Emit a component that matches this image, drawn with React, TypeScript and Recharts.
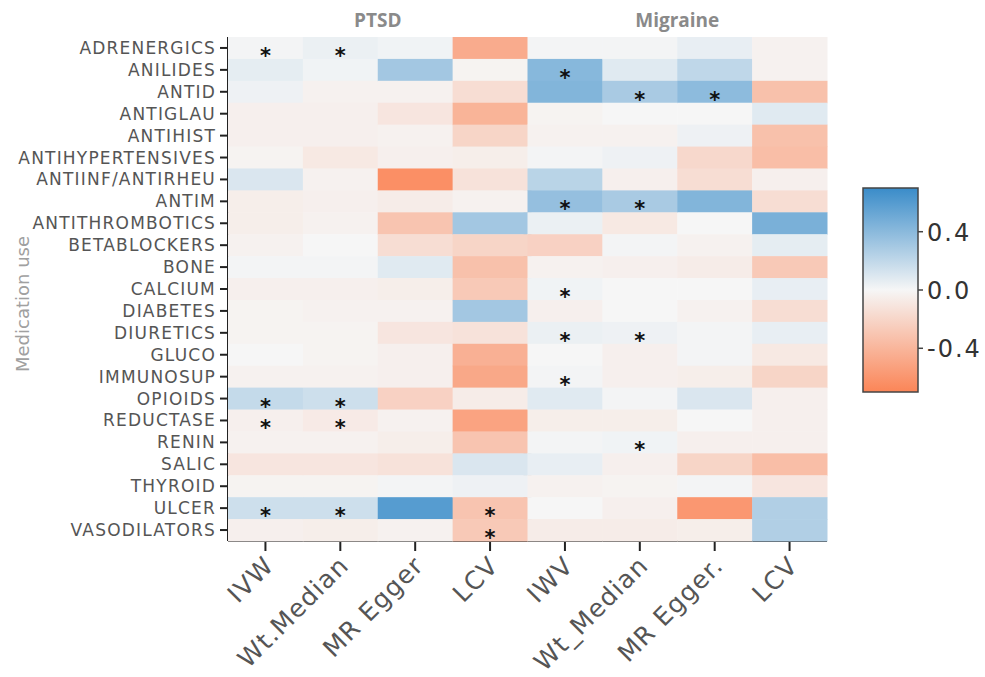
import React from 'react';
import { ScatterChart, Scatter, XAxis, YAxis, ReferenceLine } from 'recharts';

const medications = [
  'ADRENERGICS', 'ANILIDES', 'ANTID', 'ANTIGLAU', 'ANTIHIST', 'ANTIHYPERTENSIVES',
  'ANTIINF/ANTIRHEU', 'ANTIM', 'ANTITHROMBOTICS', 'BETABLOCKERS', 'BONE', 'CALCIUM',
  'DIABETES', 'DIURETICS', 'GLUCO', 'IMMUNOSUP', 'OPIOIDS', 'REDUCTASE', 'RENIN',
  'SALIC', 'THYROID', 'ULCER', 'VASODILATORS',
];
const methods = ['IVW', 'Wt.Median', 'MR Egger', 'LCV', 'IWV', 'Wt_Median', 'MR Egger.', 'LCV'];
const groups = ['PTSD', 'Migraine'];
const groupCenters = [1.5, 5.5];

const ptsdIVW = [0.01, 0.06, 0.03, -0.04, -0.04, -0.02, 0.1, -0.05, -0.05, -0.03, 0.01, -0.04, -0.02, -0.02, 0.0, -0.03, 0.18, -0.04, -0.03, -0.1, -0.02, 0.15, -0.04];
const ptsdWtMedian = [0.04, 0.02, -0.03, -0.04, -0.04, -0.08, -0.03, -0.04, -0.03, 0.0, 0.01, -0.04, -0.03, -0.02, -0.02, -0.03, 0.15, -0.07, -0.03, -0.1, -0.02, 0.15, -0.05];
const ptsdEgger = [0.02, 0.3, -0.03, -0.1, -0.03, -0.04, -0.62, -0.06, -0.3, -0.15, 0.08, -0.05, -0.03, -0.1, -0.04, -0.04, -0.22, -0.03, -0.05, -0.12, 0.01, 0.58, -0.03];
const ptsdLCV = [-0.45, -0.02, -0.15, -0.4, -0.2, -0.05, -0.12, -0.03, 0.3, -0.2, -0.32, -0.27, 0.3, -0.12, -0.42, -0.47, -0.06, -0.5, -0.3, 0.1, 0.03, -0.3, -0.27];
const migIWV = [0.01, 0.4, 0.42, -0.02, -0.03, 0.01, 0.22, 0.35, 0.04, -0.22, -0.03, 0.02, -0.04, 0.04, 0.0, 0.01, 0.08, -0.05, 0.01, 0.05, -0.03, 0.0, -0.06];
const migWtMedian = [0.01, 0.08, 0.28, 0.0, -0.03, 0.03, -0.04, 0.28, -0.08, 0.01, -0.04, 0.0, 0.0, 0.03, -0.04, -0.04, 0.01, -0.05, 0.02, -0.04, -0.02, -0.04, -0.06];
const migEgger = [0.05, 0.2, 0.38, 0.0, 0.03, -0.18, -0.15, 0.42, 0.0, -0.03, -0.06, 0.0, -0.03, 0.01, 0.01, -0.05, 0.1, 0.0, -0.04, -0.2, 0.01, -0.57, -0.05];
const migLCV = [-0.03, -0.03, -0.32, 0.08, -0.32, -0.34, -0.04, -0.15, 0.45, 0.06, -0.27, 0.05, -0.15, 0.05, -0.08, -0.2, -0.04, -0.04, -0.04, -0.34, -0.1, 0.25, 0.25];

const columns = [ptsdIVW, ptsdWtMedian, ptsdEgger, ptsdLCV, migIWV, migWtMedian, migEgger, migLCV];

// [row, column] of significant cells
const significant = [
  [0, 0], [0, 1], [16, 0], [16, 1], [17, 0], [17, 1], [21, 0], [21, 1], [21, 3], [22, 3],
  [1, 4], [2, 5], [2, 6], [7, 4], [7, 5], [11, 4], [13, 4], [13, 5], [15, 4], [18, 5],
];

const colorbarTicks = [0.4, 0.0, -0.4];
const LIMIT = 0.68;

const cells = columns.flatMap((vals, c) => vals.map((v, r) => ({ x: c, y: r, v })));
const stars = significant.map(([r, c]) => ({ x: c, y: r }));
const headers = groups.map((g, i) => ({ x: groupCenters[i], y: -0.5, label: g }));

const WHITE = [246, 246, 246];
const BLUE = [58, 140, 201];
const ORANGE = [251, 133, 87];
function colorFor(v: number) {
  const t = Math.min(1, Math.abs(v) / LIMIT);
  const end = v >= 0 ? BLUE : ORANGE;
  const c = WHITE.map((w, i) => Math.round(w + (end[i] - w) * t));
  return `rgb(${c[0]},${c[1]},${c[2]})`;
}

const W = 985;
const H = 677;
const M = { top: 37, right: 158, bottom: 16, left: 0 };
const Y_W = 228;
const BOT_H = 120;
const PLOT_W = W - M.left - M.right - Y_W;
const PLOT_H = H - M.top - M.bottom - BOT_H;
const CELL_W = PLOT_W / methods.length;
const CELL_H = PLOT_H / medications.length;

const FONT = 'DejaVu Sans, Verdana, sans-serif';

const CellShape = (props: any) => {
  const { cx, cy, payload } = props;
  return (
    <rect x={cx - CELL_W / 2} y={cy - CELL_H / 2} width={CELL_W + 0.5} height={CELL_H + 0.5} fill={colorFor(payload.v)} />
  );
};

const StarShape = (props: any) => {
  const { cx, cy } = props;
  return (
    <text x={cx} y={cy + 15} textAnchor="middle" fontSize={21} fontWeight="bold" fontFamily={FONT} fill="#111">*</text>
  );
};

const HeaderShape = (props: any) => {
  const { cx, cy, payload } = props;
  return (
    <text x={cx} y={cy - 10} textAnchor="middle" fontSize={19} fontWeight="bold" fontFamily="Open Sans, sans-serif" fill="#8a8a8a">
      {payload.label}
    </text>
  );
};

const LeftTick = (props: any) => {
  const { x, y, payload } = props;
  return (
    <text x={x} y={y} dy={6} textAnchor="end" fontSize={17} letterSpacing={1.2} fontFamily={FONT} fill="#555">
      {medications[payload.value]}
    </text>
  );
};

const BottomTick = (props: any) => {
  const { x, y, payload } = props;
  const ax = x + 10;
  const ay = y + 14;
  return (
    <text x={ax} y={ay} transform={`rotate(-45 ${ax} ${ay})`} textAnchor="end" fontSize={25} letterSpacing={1.2} fontFamily={FONT} fill="#555">
      {methods[payload.value]}
    </text>
  );
};

const ColorBar = () => {
  const top = 188;
  const bottom = 392;
  const yOf = (v: number) => top + ((0.7 - v) / 1.4) * (bottom - top);
  return (
    <svg width={W} height={H} style={{ position: 'absolute', left: 0, top: 0, pointerEvents: 'none' }}>
      <defs>
        <linearGradient id="cbar" x1="0" y1="0" x2="0" y2="1">
          <stop offset="0%" stopColor="rgb(58,140,201)" />
          <stop offset="50%" stopColor="rgb(246,246,246)" />
          <stop offset="100%" stopColor="rgb(251,133,87)" />
        </linearGradient>
      </defs>
      <rect x={863} y={top} width={55} height={bottom - top} fill="url(#cbar)" stroke="#444" strokeWidth={1.5} />
      {colorbarTicks.map((t) => (
        <g key={t}>
          <line x1={918} x2={923} y1={yOf(t)} y2={yOf(t)} stroke="#444" strokeWidth={1.5} />
          <text x={927} y={yOf(t) + 9} fontSize={24} letterSpacing={2} fontFamily={FONT} fill="#333">
            {t.toFixed(1)}
          </text>
        </g>
      ))}
    </svg>
  );
};

export default function App() {
  return (
    <div style={{ position: 'absolute', left: 0, top: 0, width: W, height: H, background: '#fff' }}>
      <ScatterChart width={W} height={H} margin={M}>
        <XAxis
          type="number"
          dataKey="x"
          domain={[-0.5, 7.5]}
          ticks={[0, 1, 2, 3, 4, 5, 6, 7]}
          interval={0}
          height={BOT_H}
          axisLine={{ stroke: '#222', strokeWidth: 2 }}
          tickLine={{ stroke: '#222', strokeWidth: 2 }}
          tickSize={10}
          tickMargin={2}
          tick={<BottomTick />}
        />
        <YAxis
          type="number"
          dataKey="y"
          domain={[-0.5, 22.5]}
          reversed
          ticks={medications.map((_, i) => i)}
          interval={0}
          width={Y_W}
          axisLine={{ stroke: '#222', strokeWidth: 2 }}
          tickLine={{ stroke: '#222', strokeWidth: 2 }}
          tickSize={8}
          tickMargin={4}
          tick={<LeftTick />}
          label={{
            content: () => (
              <text x={29} y={304} transform="rotate(-90 29 304)" textAnchor="middle" fontSize={18} fontFamily={FONT} fill="#a0a0a0">
                Medication use
              </text>
            ),
          }}
        />
        <Scatter data={cells} shape={<CellShape />} isAnimationActive={false} />
        <ReferenceLine x={3.5} stroke="#a3a3a3" strokeWidth={8} />
        <Scatter data={stars} shape={<StarShape />} isAnimationActive={false} />
        <Scatter data={headers} shape={<HeaderShape />} isAnimationActive={false} />
      </ScatterChart>
      <ColorBar />
    </div>
  );
}
